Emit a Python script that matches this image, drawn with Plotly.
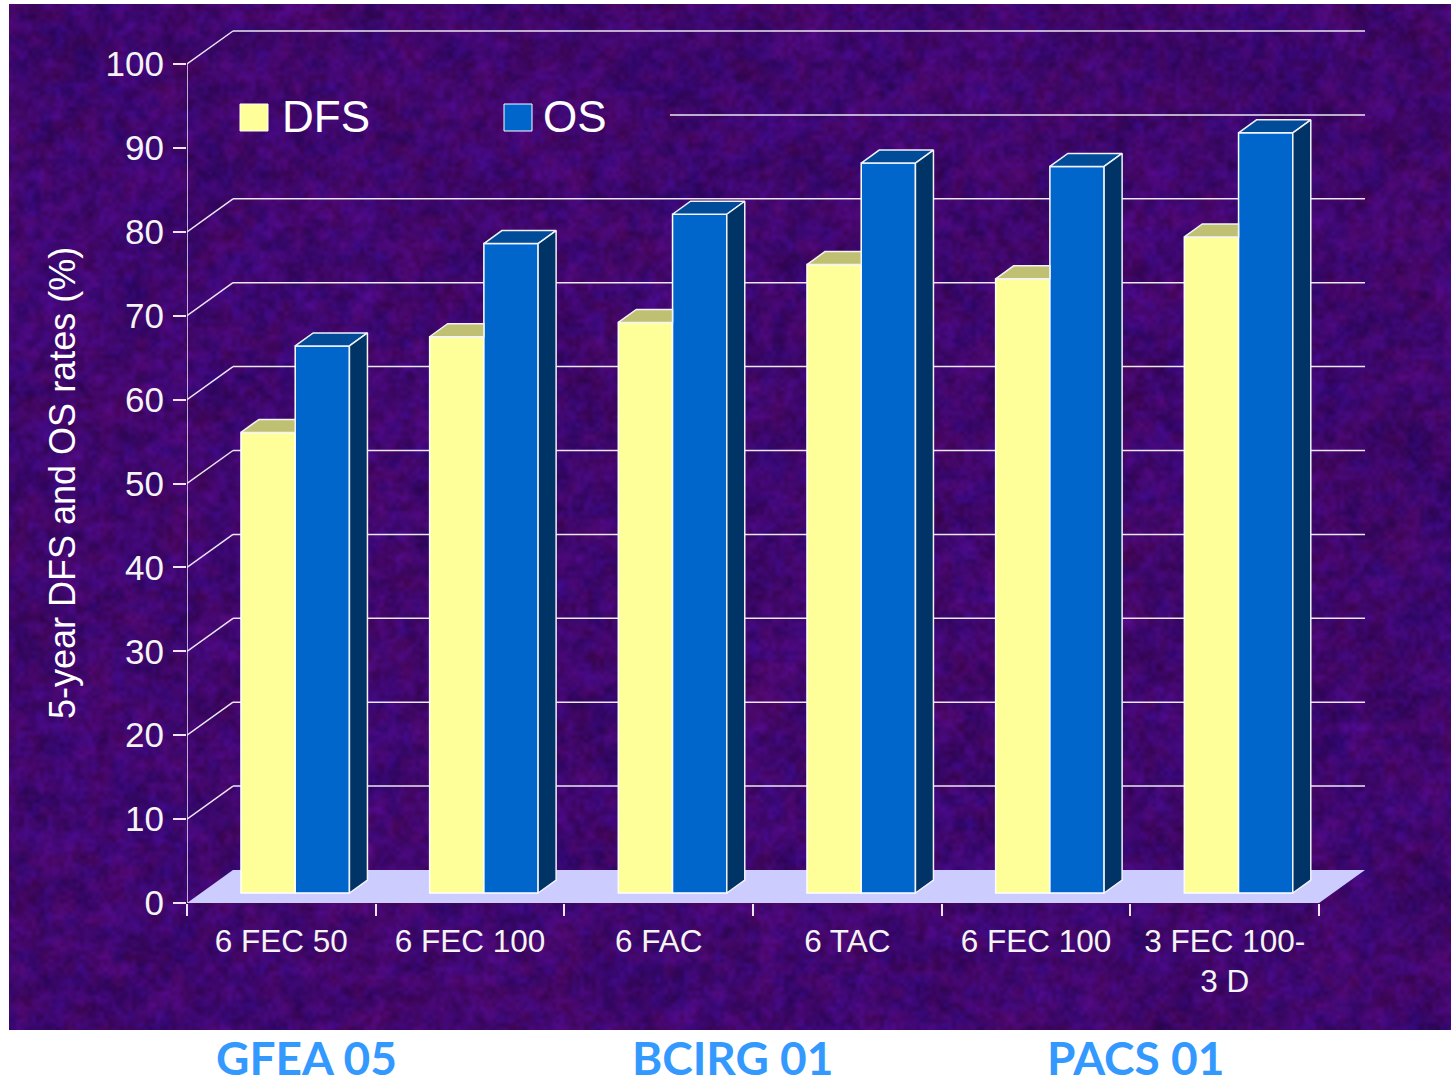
import base64
import struct
import zlib

import numpy as np
import plotly.graph_objects as go

# Study arms and 5-year outcome rates (%)
categories = ["6 FEC 50", "6 FEC 100", "6 FAC", "6 TAC", "6 FEC 100", "3 FEC 100-<br>3 D"]
dfs_values = [54.9, 66.3, 68.0, 74.9, 73.2, 78.2]
os_values = [65.2, 77.4, 80.9, 87.0, 86.6, 90.6]
y_ticks = list(range(0, 101, 10))
trial_names = ["GFEA 05", "BCIRG 01", "PACS 01"]

W, H = 1451, 1084
ML, MT, MB, MR = 187, 20, 181, 70
PW, PH = W - ML - MR, H - MT - MB
X_UNIT = 188.67      # pixels per category
Y_UNIT = 8.39        # pixels per percentage point
DEPTH_X = 46 / X_UNIT   # wall recess
DEPTH_Y = 33 / Y_UNIT
BAR_W = 0.2875
BAR_FIRST = 0.286
BAR_FLOOR = 10 / Y_UNIT
SIDE_X = 18 / X_UNIT
SIDE_Y = 13 / Y_UNIT

FONT = "Liberation Sans"
LINE = "#ece6f2"


def px(x):
    return (x - ML) / PW


def py(y):
    return 1 - (y - MT) / PH


def texture_png(w, h):
    """Mottled purple backdrop, built from a shader-style hash and encoded as a PNG."""
    def layer(cells_x, cells_y, seed):
        gx, gy = np.meshgrid(np.arange(cells_x + 2), np.arange(cells_y + 2))
        v = np.sin(gx * 12.9898 + gy * 78.233 + seed) * 43758.5453
        v = v - np.floor(v)
        xs = np.linspace(0, cells_x, w)
        ys = np.linspace(0, cells_y, h)
        ix, iy = xs.astype(int), ys.astype(int)
        fx, fy = xs - ix, ys - iy
        fx = fx * fx * (3 - 2 * fx)
        fy = fy * fy * (3 - 2 * fy)
        a = v[np.ix_(iy, ix)]
        b = v[np.ix_(iy, ix + 1)]
        c = v[np.ix_(iy + 1, ix)]
        d = v[np.ix_(iy + 1, ix + 1)]
        top = a * (1 - fx) + b * fx
        bot = c * (1 - fx) + d * fx
        fy = fy[:, None]
        return top * (1 - fy) + bot * fy - 0.5

    lum = (1.0 * layer(w // 2, h // 2, 1.3) + 0.9 * layer(w // 5, h // 5, 2.7)
           + 0.5 * layer(w // 16, h // 16, 4.1))
    red = 1.0 * layer(w // 6, h // 6, 5.9) + 0.5 * layer(w // 20, h // 20, 7.7)
    blue = 1.0 * layer(w // 6, h // 6, 9.1) + 0.5 * layer(w // 20, h // 20, 3.3)
    r = 64 + 14 * lum + 20 * red
    g = 8 + 4 * lum
    b = 110 + 30 * lum + 16 * blue
    img = np.clip(np.dstack([r, g, b]), 0, 255).astype(np.uint8)

    raw = b"".join(b"\x00" + img[i].tobytes() for i in range(h))

    def chunk(tag, data):
        return (struct.pack(">I", len(data)) + tag + data
                + struct.pack(">I", zlib.crc32(tag + data) & 0xFFFFFFFF))

    png = (b"\x89PNG\r\n\x1a\n"
           + chunk(b"IHDR", struct.pack(">IIBBBBB", w, h, 8, 2, 0, 0, 0))
           + chunk(b"IDAT", zlib.compress(raw, 6))
           + chunk(b"IEND", b""))
    return "data:image/png;base64," + base64.b64encode(png).decode()


fig = go.Figure()

n = len(categories)
dfs_x = [i + BAR_FIRST + BAR_W / 2 for i in range(n)]
os_x = [i + BAR_FIRST + BAR_W * 1.5 for i in range(n)]

# Front faces of the columns
fig.add_bar(x=dfs_x, y=dfs_values, base=BAR_FLOOR, width=BAR_W, name="DFS",
            marker=dict(color="#ffff99", line=dict(color="#ffffff", width=1.5)))
fig.add_bar(x=os_x, y=os_values, base=BAR_FLOOR, width=BAR_W, name="OS",
            marker=dict(color="#0066cc", line=dict(color="#ffffff", width=1.5)))


def face(xs, ys, color):
    fig.add_scatter(x=xs, y=ys, mode="lines", fill="toself", fillcolor=color,
                    line=dict(color="#f2f2f8", width=1.5), hoverinfo="skip",
                    showlegend=False)


# Receding faces; the DFS top stops where the OS column starts
for i in range(n):
    left = dfs_x[i] - BAR_W / 2
    mid = dfs_x[i] + BAR_W / 2
    right = os_x[i] + BAR_W / 2
    d_top = dfs_values[i] + BAR_FLOOR
    o_top = os_values[i] + BAR_FLOOR
    face([left, left + SIDE_X, mid, mid, left],
         [d_top, d_top + SIDE_Y, d_top + SIDE_Y, d_top, d_top], "#c0c073")
    face([mid, mid + SIDE_X, right + SIDE_X, right, mid],
         [o_top, o_top + SIDE_Y, o_top + SIDE_Y, o_top, o_top], "#004c99")
    face([right, right + SIDE_X, right + SIDE_X, right, right],
         [o_top, o_top + SIDE_Y, BAR_FLOOR + SIDE_Y, BAR_FLOOR, o_top], "#003366")

# Front edges of the box, left unclipped so they keep their full width
fig.add_scatter(x=[0, 0], y=[0, 100], mode="lines", cliponaxis=False,
                line=dict(color=LINE, width=1.5), hoverinfo="skip", showlegend=False)
fig.add_scatter(x=[0, n], y=[0, 0], mode="lines", cliponaxis=False,
                line=dict(color="#d8cfe0", width=1.5), hoverinfo="skip", showlegend=False)

# Floor of the box and wall grid, all behind the columns
shapes = [dict(type="path", xref="x", yref="y", layer="below",
               path=f"M 0 0 L {DEPTH_X} {DEPTH_Y} L {n + DEPTH_X} {DEPTH_Y} L {n} 0 Z",
               fillcolor="#ccccff", line=dict(width=0))]
for t in y_ticks[1:]:
    # the key panel hides the left part of the 90 line
    start = 2.56 if t == 90 else DEPTH_X
    shapes.append(dict(type="line", xref="x", yref="y", layer="below",
                       x0=start, x1=n + DEPTH_X, y0=t + DEPTH_Y, y1=t + DEPTH_Y,
                       line=dict(color=LINE, width=1.5)))
    if t != 90:
        shapes.append(dict(type="line", xref="x", yref="y", layer="below",
                           x0=0, x1=DEPTH_X, y0=t, y1=t + DEPTH_Y,
                           line=dict(color=LINE, width=1.5)))

# Key swatches
for x0, color in [(240, "#ffff99"), (504, "#0066cc")]:
    shapes.append(dict(type="rect", xref="paper", yref="paper", layer="above",
                       x0=px(x0), x1=px(x0 + 28), y0=py(131), y1=py(104),
                       fillcolor=color, line=dict(color="#ffffff", width=1)))

annotations = [
    dict(text="DFS", x=px(280), y=py(117), xanchor="left", font_size=44),
    dict(text="OS", x=px(541), y=py(117), xanchor="left", font_size=44),
    dict(text="5-year DFS and OS rates (%)", x=px(62), y=py(483), textangle=-90,
         xanchor="center", font_size=36),
]
for a in annotations:
    a.update(xref="paper", yref="paper", yanchor="middle", showarrow=False,
             font=dict(family=FONT, size=a.pop("font_size"), color="#ffffff"))

for name, cx in zip(trial_names, [306, 732, 1135]):
    annotations.append(dict(text=f"<b>{name}</b>", xref="paper", yref="paper",
                            x=px(cx), y=py(1057), xanchor="center", yanchor="middle",
                            showarrow=False,
                            font=dict(family="Lato", size=46, color="#3399ff")))

fig.update_layout(
    width=W, height=H, autosize=False,
    margin=dict(l=ML, r=MR, t=MT, b=MB, pad=0),
    paper_bgcolor="#ffffff", plot_bgcolor="rgba(0,0,0,0)",
    barmode="overlay", showlegend=False,
    shapes=shapes, annotations=annotations,
    images=[dict(source=texture_png(721, 513), xref="paper", yref="paper",
                 x=px(9), y=py(4), sizex=(1451 - 9) / PW, sizey=(1030 - 4) / PH,
                 sizing="stretch", xanchor="left", yanchor="top", layer="below")],
    xaxis=dict(range=[0, PW / X_UNIT], showgrid=False, zeroline=False, showline=False,
               tickvals=[i + 0.5 for i in range(n)], ticktext=categories, ticks="",
               ticklabelstandoff=16, tickangle=0,
               tickfont=dict(family=FONT, size=31.5, color="#f4f4f4"),
               minor=dict(tickvals=list(range(n + 1)), ticks="outside", ticklen=12,
                          tickwidth=1.5, tickcolor=LINE, showgrid=False)),
    yaxis=dict(range=[0, PH / Y_UNIT], showgrid=False, zeroline=False, showline=False,
               tickvals=y_ticks, ticks="outside", ticklen=13, tickwidth=1.5,
               tickcolor=LINE, ticklabelstandoff=2,
               tickfont=dict(family=FONT, size=35, color="#f4f4f4")),
)

fig.write_html("out.html")
